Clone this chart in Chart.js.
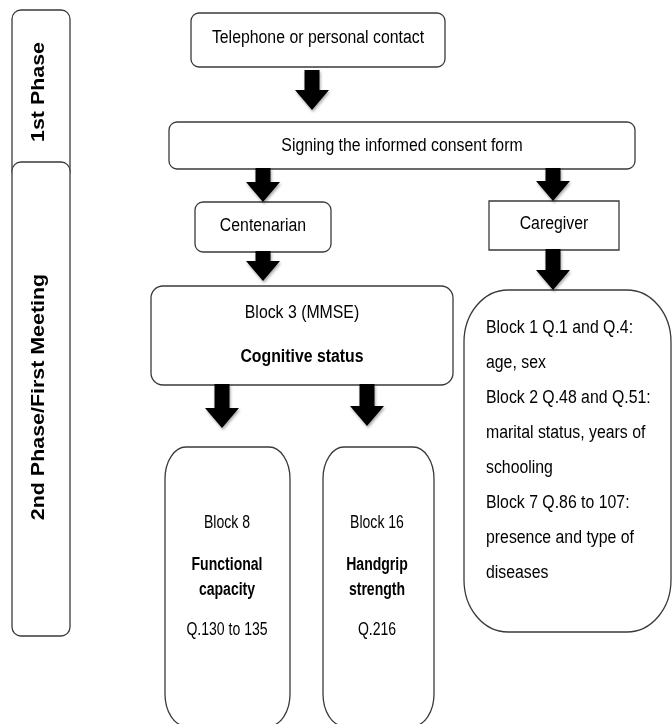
<!DOCTYPE html>
<html>
<head>
<meta charset="utf-8">
<script src="https://cdn.jsdelivr.net/npm/chart.js"></script>
<style>
  html, body { margin: 0; padding: 0; background: #fff; }
  canvas { display: block; }
</style>
</head>
<body>
<canvas id="flow" width="672" height="724"></canvas>
<script>
// ── Content of the flowchart ─────────────────────────────
const phaseLabels = ['1st Phase', '2nd Phase/First Meeting'];
const stepLabels = ['Telephone or personal contact', 'Signing the informed consent form', 'Centenarian', 'Caregiver'];
const blockTitles = ['Block 3 (MMSE)', 'Block 8', 'Block 16'];
const blockTopics = [['Cognitive status'], ['Functional', 'capacity'], ['Handgrip', 'strength']];
const blockQuestions = ['', 'Q.130 to 135', 'Q.216'];
const caregiverLines = [
    'Block 1 Q.1 and Q.4:', 'age, sex',
    'Block 2 Q.48 and Q.51:', 'marital status, years of', 'schooling',
    'Block 7 Q.86 to 107:', 'presence and type of', 'diseases'
];

// ── Layout (scale units = px of the reference) ───────────
const phaseBoxes = [
    { x0: 12, y0: 10, x1: 70, y1: 180, r: 9, ty: 92 },
    { x0: 12, y0: 162, x1: 70, y1: 636, r: 9, ty: 397 }
];
const stepBoxes = [
    { x0: 191, y0: 13, x1: 445, y1: 67, r: 8, ty: 38 },
    { x0: 169, y0: 122, x1: 635, y1: 169, r: 8, ty: 146 },
    { x0: 195, y0: 202, x1: 331, y1: 252, r: 8, ty: 226 },
    { x0: 489, y0: 201, x1: 619, y1: 250, r: 0, ty: 224 }
];
const blockBoxes = [
    { x0: 151, y0: 286, x1: 453, y1: 385, rx: 12, ry: 12, tx: 302, ty: [313, 357], sx: 0.88 },
    { x0: 165, y0: 447, x1: 290, y1: 726, rx: 21, ry: 32, tx: 227, ty: [523, 565, 590, 630], sx: 0.78 },
    { x0: 323, y0: 447, x1: 434, y1: 726, rx: 21, ry: 32, tx: 377, ty: [523, 565, 590, 630], sx: 0.78 }
];
const caregiverBox = { x0: 464, y0: 290, x1: 671, y1: 632, rx: 44, ry: 52, tx: 486, ty0: 328, dy: 35 };
const arrows = [
    { x: 312, y0: 70, y1: 110 },
    { x: 263, y0: 168, y1: 202 },
    { x: 553, y0: 168, y1: 201 },
    { x: 263, y0: 251, y1: 281 },
    { x: 553, y0: 249, y1: 290 },
    { x: 222, y0: 384, y1: 428 },
    { x: 367, y0: 384, y1: 426 }
];

const FONT = "'Liberation Sans', Arial, sans-serif";
const STROKE = '#3a3a3a';

function boxPath(ctx, x0, y0, x1, y1, rx, ry) {
    ctx.beginPath();
    ctx.moveTo(x0 + rx, y0);
    ctx.lineTo(x1 - rx, y0);
    ctx.ellipse(x1 - rx, y0 + ry, rx, ry, 0, -Math.PI / 2, 0);
    ctx.lineTo(x1, y1 - ry);
    ctx.ellipse(x1 - rx, y1 - ry, rx, ry, 0, 0, Math.PI / 2);
    ctx.lineTo(x0 + rx, y1);
    ctx.ellipse(x0 + rx, y1 - ry, rx, ry, 0, Math.PI / 2, Math.PI);
    ctx.lineTo(x0, y0 + ry);
    ctx.ellipse(x0 + rx, y0 + ry, rx, ry, 0, Math.PI, Math.PI * 1.5);
    ctx.closePath();
}

// condensed-looking text: the original figure is squeezed horizontally
function label(ctx, str, x, y, opts) {
    const o = Object.assign({ size: 18, bold: false, sx: 0.88, align: 'center' }, opts);
    ctx.save();
    ctx.translate(x, y);
    ctx.scale(o.sx, 1);
    ctx.font = (o.bold ? 'bold ' : '') + o.size + 'px ' + FONT;
    ctx.fillStyle = '#000';
    ctx.textAlign = o.align;
    ctx.textBaseline = 'middle';
    ctx.fillText(str, 0, 0);
    ctx.restore();
}

const flowchartPlugin = {
    id: 'flowchart',
    afterDraw(chart) {
        const ctx = chart.ctx;
        const xs = chart.scales.x, ys = chart.scales.y;
        const px = v => xs.getPixelForValue(v);
        const py = v => ys.getPixelForValue(v);

        const drawBox = (b, rx, ry) => {
            boxPath(ctx, px(b.x0), py(b.y0), px(b.x1), py(b.y1), rx, ry);
            ctx.fillStyle = '#fff';
            ctx.fill();
            ctx.lineWidth = 1.3;
            ctx.strokeStyle = STROKE;
            ctx.stroke();
        };

        // Phase tabs on the left, rotated bold text
        phaseBoxes.forEach((b, i) => {
            drawBox(b, b.r, b.r);
            ctx.save();
            ctx.translate(px(44), py(b.ty));
            ctx.rotate(-Math.PI / 2);
            ctx.scale(1.19, 1);
            ctx.font = 'bold 18px ' + FONT;
            ctx.fillStyle = '#000';
            ctx.textAlign = 'center';
            ctx.textBaseline = 'alphabetic';
            ctx.fillText(phaseLabels[i], 0, 0);
            ctx.restore();
        });

        // Simple step boxes
        stepBoxes.forEach((b, i) => {
            drawBox(b, b.r, b.r);
            label(ctx, stepLabels[i], px((b.x0 + b.x1) / 2), py(b.ty));
        });

        // Centenarian questionnaire blocks
        blockBoxes.forEach((b, i) => {
            drawBox(b, b.rx, b.ry);
            const lines = [blockTitles[i]].concat(blockTopics[i]);
            if (blockQuestions[i]) lines.push(blockQuestions[i]);
            lines.forEach((t, j) => {
                const isTopic = j > 0 && j <= blockTopics[i].length;
                label(ctx, t, px(b.tx), py(b.ty[j]), { bold: isTopic, sx: b.sx });
            });
        });

        // Caregiver questionnaire block
        const c = caregiverBox;
        drawBox(c, c.rx, c.ry);
        caregiverLines.forEach((t, j) => {
            label(ctx, t, px(c.tx), py(c.ty0 + j * c.dy), { align: 'left' });
        });

        // Thick down arrows with soft shadow
        arrows.forEach(a => {
            const x = px(a.x), y0 = py(a.y0), y1 = py(a.y1);
            const headL = 20, shaftW = 15, headW = 34;
            ctx.save();
            ctx.shadowColor = 'rgba(0,0,0,0.35)';
            ctx.shadowBlur = 3;
            ctx.shadowOffsetX = 1;
            ctx.shadowOffsetY = 2;
            ctx.beginPath();
            ctx.moveTo(x - shaftW / 2, y0);
            ctx.lineTo(x + shaftW / 2, y0);
            ctx.lineTo(x + shaftW / 2, y1 - headL);
            ctx.lineTo(x + headW / 2, y1 - headL);
            ctx.lineTo(x, y1);
            ctx.lineTo(x - headW / 2, y1 - headL);
            ctx.lineTo(x - shaftW / 2, y1 - headL);
            ctx.closePath();
            ctx.fillStyle = '#000';
            ctx.fill();
            ctx.restore();
        });
    }
};

new Chart(document.getElementById('flow').getContext('2d'), {
    type: 'scatter',
    data: { datasets: [{ data: [], pointRadius: 0 }] },
    options: {
        responsive: false,
        animation: false,
        devicePixelRatio: 1,
        events: [],
        layout: { padding: 0 },
        plugins: { legend: { display: false }, tooltip: { enabled: false } },
        scales: {
            x: { type: 'linear', min: 0, max: 672, display: false },
            y: { type: 'linear', min: 0, max: 724, reverse: true, display: false }
        }
    },
    plugins: [flowchartPlugin]
});
</script>
</body>
</html>
